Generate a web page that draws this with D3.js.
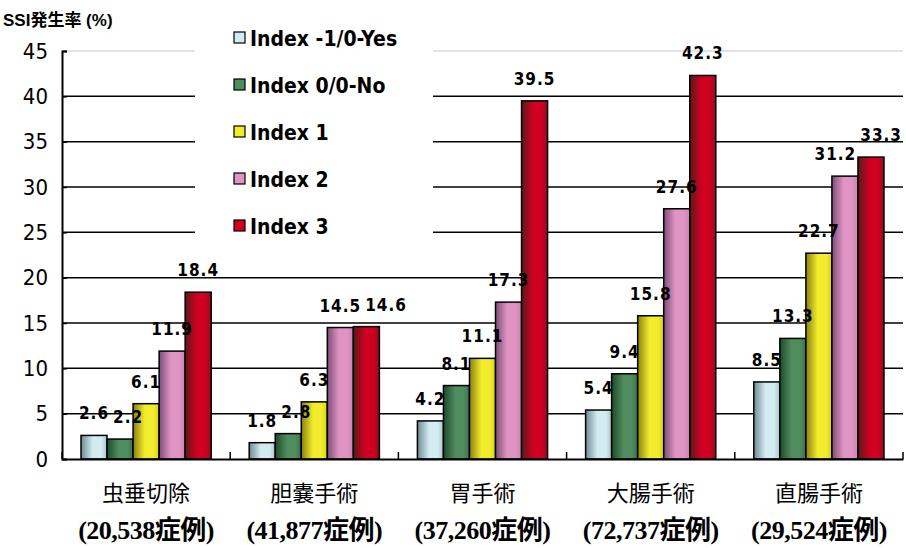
<!DOCTYPE html>
<html>
<head>
<meta charset="utf-8">
<script src="https://cdn.jsdelivr.net/npm/d3@7"></script>
<style>
  html, body { margin: 0; padding: 0; background: #fff; }
  svg { display: block; }
</style>
</head>
<body>
<svg id="chart" width="906" height="548"></svg>
<script>
// Surgical procedures and case counts
const categories = ["虫垂切除", "胆嚢手術", "胃手術", "大腸手術", "直腸手術"];
const caseCounts = ["(20,538症例)", "(41,877症例)", "(37,260症例)", "(72,737症例)", "(29,524症例)"];

// Risk index series
const seriesNames = ["Index -1/0-Yes", "Index 0/0-No", "Index 1", "Index 2", "Index 3"];

// SSI rate (%) per procedure, one array per series
const indexM1Yes = [2.6, 1.8, 4.2, 5.4, 8.5];
const index0No   = [2.2, 2.8, 8.1, 9.4, 13.3];
const index1     = [6.1, 6.3, 11.1, 15.8, 22.7];
const index2     = [11.9, 14.5, 17.3, 27.6, 31.2];
const index3     = [18.4, 14.6, 39.5, 42.3, 33.3];

const yTicks = [0, 5, 10, 15, 20, 25, 30, 35, 40, 45];

const seriesValues = [indexM1Yes, index0No, index1, index2, index3];

// dark edge / light face colours for each series gradient
const palette = [
  { dark: "#6f8a92", light: "#d3ecf2", edge: "#a9c4cb" },
  { dark: "#1f4a2a", light: "#4f8c5e", edge: "#3d7049" },
  { dark: "#8a7f10", light: "#f2ec2c", edge: "#d8d020" },
  { dark: "#7d4d78", light: "#e094c4", edge: "#c883ad" },
  { dark: "#5a1a1a", light: "#d00020", edge: "#8a1020" }
];

const W = 906, H = 548;
const margin = { top: 51, right: 3, bottom: 89, left: 62 };
const svg = d3.select("#chart");

const defs = svg.append("defs");
palette.forEach((c, i) => {
  const g = defs.append("linearGradient")
    .attr("id", "grad" + i)
    .attr("x1", "0%").attr("x2", "100%").attr("y1", "0%").attr("y2", "0%");
  g.append("stop").attr("offset", "0%").attr("stop-color", c.dark);
  g.append("stop").attr("offset", "45%").attr("stop-color", c.light);
  g.append("stop").attr("offset", "78%").attr("stop-color", c.light);
  g.append("stop").attr("offset", "100%").attr("stop-color", c.edge);
});

const x0 = d3.scaleBand()
  .domain(categories)
  .range([margin.left, W - margin.right])
  .padding(0);

const x1 = d3.scaleBand()
  .domain(seriesNames)
  .range([0, x0.bandwidth()])
  .paddingInner(0)
  .paddingOuter(0.73);

const y = d3.scaleLinear()
  .domain([0, 45])
  .range([H - margin.bottom, margin.top]);

// gridlines
const grid = svg.append("g");
grid.selectAll("line")
  .data(yTicks.filter(t => t > 0))
  .join("line")
  .attr("x1", margin.left).attr("x2", W - margin.right)
  .attr("y1", d => y(d)).attr("y2", d => y(d))
  .attr("stroke", d => d === 45 ? "#c8c8c8" : "#000")
  .attr("stroke-width", d => d === 45 ? 1 : 1.5);

// legend backdrop hides the gridlines behind it
svg.append("rect")
  .attr("x", 195).attr("y", 18).attr("width", 238).attr("height", 232)
  .attr("fill", "#fff");

// bars
const groups = svg.append("g")
  .selectAll("g")
  .data(categories)
  .join("g")
  .attr("transform", d => `translate(${x0(d)},0)`);

const barData = (cat, ci) => seriesNames.map((s, si) => ({ cat, s, si, v: seriesValues[si][ci] }));

groups.selectAll("rect")
  .data((d, ci) => barData(d, ci))
  .join("rect")
  .attr("x", d => x1(d.s))
  .attr("y", d => y(d.v))
  .attr("width", x1.bandwidth())
  .attr("height", d => y(0) - y(d.v))
  .attr("fill", d => `url(#grad${d.si})`)
  .attr("stroke", "#000")
  .attr("stroke-width", 1.5);

// value labels
const labelFont = "'DejaVu Sans Condensed', 'DejaVu Sans', sans-serif";
groups.each(function (cat, ci) {
  const g = d3.select(this);
  const offset = x0(cat);
  const texts = g.selectAll("text.val")
    .data(barData(cat, ci))
    .join("text")
    .attr("class", "val")
    .attr("x", d => x1(d.s) + x1.bandwidth() / 2)
    .attr("y", d => y(d.v) - 16)
    .attr("text-anchor", "middle")
    .attr("font-family", labelFont)
    .attr("font-stretch", "condensed")
    .attr("font-weight", "bold")
    .attr("font-size", 17)
    .attr("letter-spacing", 1)
    .attr("fill", "#000")
    .text(d => d.v.toFixed(1));
  // separate a label from its left neighbour when they would collide,
  // keeping it inside the drawing area
  const nodes = texts.nodes();
  for (let i = 1; i < nodes.length; i++) {
    const a = nodes[i - 1], b = nodes[i];
    const ya = +a.getAttribute("y"), yb = +b.getAttribute("y");
    if (Math.abs(ya - yb) > 20) continue;
    const wa = a.getComputedTextLength(), wb = b.getComputedTextLength();
    const xa = +a.getAttribute("x"), xb = +b.getAttribute("x");
    const need = (wa + wb) / 2 + 4 - (xb - xa);
    if (need <= 0) continue;
    const maxX = W - 4 - offset - wb / 2;
    const newB = Math.min(xb + need, maxX);
    b.setAttribute("x", newB);
    const rest = need - (newB - xb);
    if (rest > 0) a.setAttribute("x", xa - rest);
  }
});

// y axis
const yAxis = d3.axisLeft(y).tickValues(yTicks).tickSize(-5).tickPadding(14);
const gy = svg.append("g")
  .attr("transform", `translate(${margin.left},0)`)
  .call(yAxis);
gy.select(".domain").attr("stroke", "#000").attr("stroke-width", 2);
gy.selectAll(".tick line").attr("stroke", "#000").attr("stroke-width", 1.5);
gy.selectAll(".tick text")
  .attr("font-family", "'DejaVu Sans Condensed', 'Liberation Sans', sans-serif")
  .attr("font-stretch", "condensed")
  .attr("font-size", 22)
  .attr("fill", "#000");

// x axis
const xAxis = d3.axisBottom(x0).tickSize(0).tickFormat("");
const gx = svg.append("g")
  .attr("transform", `translate(0,${y(0)})`)
  .call(xAxis);
gx.select(".domain").attr("stroke", "#000").attr("stroke-width", 2);
gx.selectAll(".tick").remove();

// category separators on the x axis
svg.append("g")
  .selectAll("line")
  .data(categories.map(c => x0(c)).concat([x0.range()[1]]))
  .join("line")
  .attr("x1", d => d).attr("x2", d => d)
  .attr("y1", y(0)).attr("y2", y(0) - 7)
  .attr("stroke", "#000").attr("stroke-width", 1.5);

// category labels
const cjk = "'Noto Sans CJK JP', 'Noto Sans CJK SC', sans-serif";
svg.append("g")
  .selectAll("text")
  .data(categories)
  .join("text")
  .attr("x", d => x0(d) + x0.bandwidth() / 2)
  .attr("y", 501)
  .attr("text-anchor", "middle")
  .attr("font-family", cjk)
  .attr("font-size", 22)
  .attr("fill", "#000")
  .text(d => d);

svg.append("g")
  .selectAll("text")
  .data(caseCounts)
  .join("text")
  .attr("x", (d, i) => x0(categories[i]) + x0.bandwidth() / 2)
  .attr("y", 539)
  .attr("text-anchor", "middle")
  .attr("font-family", "'Liberation Serif', 'Times New Roman', 'Noto Sans CJK JP', serif")
  .attr("font-weight", "bold")
  .attr("font-size", 26)
  .attr("letter-spacing", -0.5)
  .attr("fill", "#000")
  .text(d => d);

// axis title
svg.append("text")
  .attr("x", 3).attr("y", 26)
  .attr("font-family", "'Liberation Sans', 'Noto Sans CJK JP', sans-serif")
  .attr("font-weight", "bold")
  .attr("font-size", 17)
  .attr("fill", "#000")
  .text("SSI発生率 (%)");

// legend
const legend = svg.append("g");
const legendItems = legend.selectAll("g")
  .data(seriesNames)
  .join("g")
  .attr("transform", (d, i) => `translate(234, ${38 + i * 47})`);
legendItems.append("rect")
  .attr("x", 0).attr("y", -6)
  .attr("width", 11).attr("height", 11)
  .attr("fill", (d, i) => palette[i].light)
  .attr("stroke", "#000").attr("stroke-width", 1.2);
legendItems.append("text")
  .attr("x", 16).attr("y", 8)
  .attr("font-family", labelFont)
  .attr("font-stretch", "condensed")
  .attr("font-weight", "bold")
  .attr("font-size", 21)
  .attr("fill", "#000")
  .text(d => d);
</script>
</body>
</html>
